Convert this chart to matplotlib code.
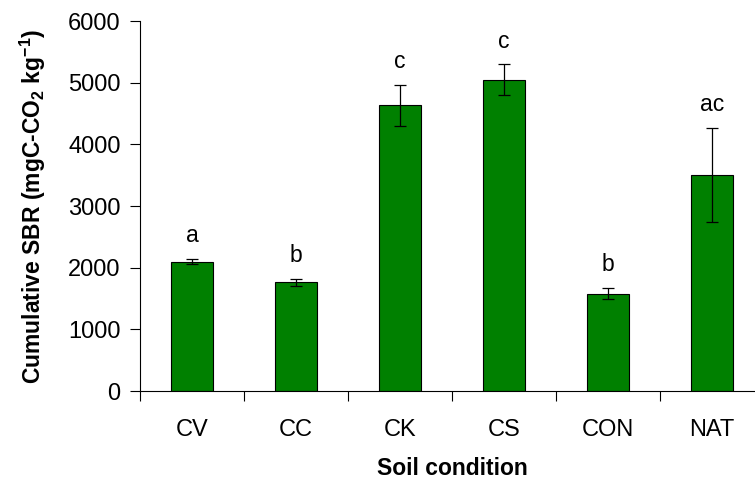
import matplotlib
matplotlib.use('Agg')
import matplotlib.pyplot as plt
import numpy as np

plt.rcParams['font.family'] = ['Liberation Sans', 'DejaVu Sans']
plt.rcParams['mathtext.fontset'] = 'custom'
plt.rcParams['mathtext.rm'] = 'Liberation Sans:bold'
plt.rcParams['mathtext.bf'] = 'Liberation Sans:bold'

# %% data
conditions = ['CV', 'CC', 'CK', 'CS', 'CON', 'NAT']
sbr_mean = [2100, 1765, 4630, 5045, 1580, 3505]
sbr_err = [45, 55, 335, 250, 95, 765]
letters = ['a', 'b', 'c', 'c', 'b', 'ac']

# %% plot
fig = plt.figure(figsize=(7.55, 4.79), dpi=100)
ax = fig.add_axes([140/755, 1 - 391/479, 624/755, 370/479])

x = np.arange(len(conditions))
ax.bar(x, sbr_mean, width=0.4, color='#008000', edgecolor='black', linewidth=0.8,
       yerr=sbr_err, capsize=4.5, error_kw=dict(ecolor='black', elinewidth=0.9, capthick=0.9))

# significance letters above the error bars
for xi, m, e, lab in zip(x, sbr_mean, sbr_err, letters):
    ax.annotate(lab, (xi, m + e), xytext=(0, 8.5), textcoords='offset points',
                ha='center', va='bottom', fontsize=16.5)

ax.set_xlim(-0.5, len(conditions) - 0.5)
ax.set_ylim(0, 6000)
ax.set_yticks(np.arange(0, 6001, 1000))
ax.set_xticks(x)
ax.set_xticklabels(conditions)
ax.set_xticks(np.arange(-0.5, len(conditions), 1), minor=True)
ax.tick_params(axis='x', which='major', length=0, pad=20, labelsize=17)
ax.tick_params(axis='x', which='minor', length=7, width=0.8, direction='out')
ax.tick_params(axis='y', length=7, width=0.8, direction='out', labelsize=17, pad=7)

for s in ['top', 'right']:
    ax.spines[s].set_visible(False)
for s in ['left', 'bottom']:
    ax.spines[s].set_linewidth(0.8)

ax.set_xlabel('Soil condition', fontsize=16.5, fontweight='bold', labelpad=12)
ax.set_ylabel(r'Cumulative SBR (mgC-CO$_2$ kg$^{-1}$)', fontsize=16.5, fontweight='bold', labelpad=14)

fig.savefig('out.png', dpi=100)
